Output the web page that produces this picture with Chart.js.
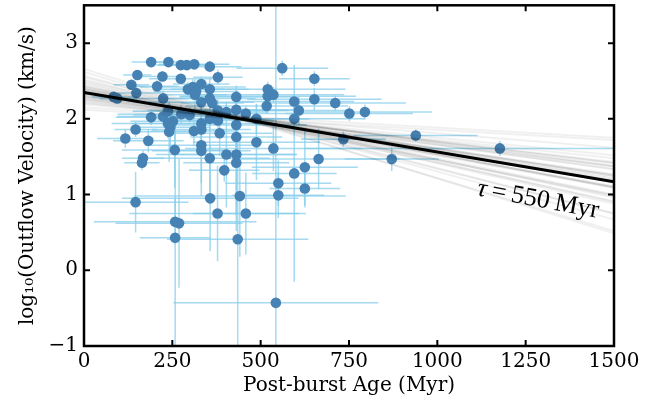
<!DOCTYPE html>
<html>
<head>
<meta charset="utf-8">
<script src="https://cdn.jsdelivr.net/npm/chart.js@4.4.1/dist/chart.umd.min.js"></script>
<style>
html,body{margin:0;padding:0;background:#fff;}
</style>
</head>
<body>
<canvas id="myScatter" width="670" height="409"></canvas>
<script>
// post-burst age (Myr) and its error
const ages=[190,239,274,291,312,356,151,222,274,379,134,207,332,308,294,317,314,356,148,84,94,224,356,363,332,431,431,238,275,299,379,403,458,488,190,224,252,238,244,241,332,356,379,431,332,311,384,431,146,117,182,257,332,332,356,403,431,431,488,167,164,397,561,652,520,520,536,517,595,652,711,608,751,795,595,734,939,536,664,871,625,595,550,550,625,146,357,441,378,458,258,269,258,435,543,1177];
const ageErr=[55,60,70,80,100,90,40,60,90,70,50,60,80,150,100,120,90,110,70,60,50,120,130,90,150,160,170,100,180,160,200,120,150,150,100,130,120,160,110,90,200,180,160,200,140,120,150,130,60,80,100,150,160,140,170,200,170,150,180,60,50,100,130,100,220,250,200,230,170,190,200,150,180,190,200,120,175,250,230,133,150,120,150,130,100,150,250,300,250,150,230,180,100,200,290,550];
// log10 outflow velocity (km/s) and its error
const logVel=[2.75,2.75,2.71,2.71,2.72,2.69,2.58,2.56,2.53,2.55,2.45,2.43,2.46,2.42,2.39,2.36,2.32,2.39,2.34,2.29,2.27,2.27,2.27,2.21,2.22,2.29,2.12,2.10,2.06,2.05,2.11,2.09,2.07,2.00,2.02,2.03,1.97,1.94,1.89,1.83,1.94,2.00,1.98,1.92,1.86,1.84,1.81,1.76,1.86,1.74,1.71,1.59,1.65,1.58,1.48,1.53,1.53,1.42,1.69,1.48,1.42,1.32,2.67,2.53,2.39,2.30,2.32,2.17,2.23,2.26,2.21,2.11,2.07,2.09,2.00,1.73,1.78,1.61,1.47,1.47,1.36,1.28,1.15,0.99,1.08,0.90,0.95,0.98,0.75,0.75,0.64,0.62,0.43,0.41,-0.43,1.61];
const logVelErr=[0.05,0.05,0.05,0.05,0.05,0.05,0.06,0.07,0.06,0.1,0.06,0.08,0.1,0.1,0.1,0.12,0.2,0.15,0.1,0.05,0.05,0.1,0.15,0.12,0.1,0.15,0.25,0.1,0.12,0.1,0.15,0.1,0.1,0.2,0.1,0.12,0.15,0.2,0.3,0.4,0.2,0.15,0.18,0.2,0.25,0.2,0.3,0.4,0.1,0.12,0.15,0.5,0.5,0.6,0.6,0.7,0.8,0.9,0.5,0.1,0.1,0.15,0.1,0.1,0.1,0.1,0.1,0.1,0.1,0.15,0.1,0.2,0.1,0.1,0.15,0.1,0.08,0.3,0.4,0.16,0.5,1.43,0.3,0.3,0.25,0.4,0.7,0.8,0.63,0.54,0.3,0.85,1.5,1.5,4.0,0.1];

// best fit line
const fitAges=[0,1500];
const fitVel=[2.35,1.17];
// posterior sample lines: value at age 0 and at age 1500
const fanStart=[2.35,2.30,2.40,2.28,2.44,2.33,2.37,2.25,2.48,2.31,2.39,2.22,2.52,2.35,2.29,2.42,2.19,2.57,2.34,2.36,2.27,2.46,2.32,2.38,2.15,2.62,2.30,2.41,2.24,2.50,2.36,2.33,2.43,2.26,2.55,2.21,2.34,2.39,2.12,2.66];
const fanEnd=[1.18,1.27,1.10,1.41,0.91,1.23,1.10,1.42,0.88,1.38,0.99,1.52,0.75,1.25,1.26,1.09,1.62,0.67,1.17,1.19,1.34,0.96,1.25,1.11,1.75,0.52,1.37,0.98,1.37,0.90,1.09,1.33,1.00,1.43,0.75,1.48,1.21,1.16,1.72,0.49];

const xTicks=[0,250,500,750,1000,1250,1500];
const yTicks=[-1,0,1,2,3];

const serif="'DejaVu Serif', serif";

const errorBars={
  id:'errorBars',
  beforeDatasetsDraw(chart){
    const {ctx,chartArea:a,scales:{x,y}}=chart;
    ctx.save();
    ctx.beginPath();ctx.rect(a.left,a.top,a.right-a.left,a.bottom-a.top);ctx.clip();
    ctx.strokeStyle='rgba(135,206,235,0.75)';
    ctx.lineWidth=1.5;
    for(let i=0;i<ages.length;i++){
      const px=x.getPixelForValue(ages[i]),py=y.getPixelForValue(logVel[i]);
      ctx.beginPath();
      ctx.moveTo(x.getPixelForValue(ages[i]-ageErr[i]),py);
      ctx.lineTo(x.getPixelForValue(ages[i]+ageErr[i]),py);
      ctx.moveTo(px,y.getPixelForValue(logVel[i]-logVelErr[i]));
      ctx.lineTo(px,y.getPixelForValue(logVel[i]+logVelErr[i]));
      ctx.stroke();
    }
    ctx.restore();
  }
};

const frame={
  id:'frame',
  afterDraw(chart){
    const {ctx,chartArea:a,scales:{x,y}}=chart;
    ctx.save();
    ctx.strokeStyle='#000';
    ctx.lineWidth=2;
    ctx.beginPath();
    xTicks.forEach(v=>{
      const px=x.getPixelForValue(v);
      ctx.moveTo(px,a.bottom);ctx.lineTo(px,a.bottom-6);
      ctx.moveTo(px,a.top);ctx.lineTo(px,a.top+6);
    });
    yTicks.forEach(v=>{
      const py=y.getPixelForValue(v);
      ctx.moveTo(a.left,py);ctx.lineTo(a.left+6,py);
      ctx.moveTo(a.right,py);ctx.lineTo(a.right-6,py);
    });
    ctx.stroke();
    ctx.lineWidth=2.5;
    ctx.strokeRect(a.left,a.top,a.right-a.left,a.bottom-a.top);
    ctx.restore();
  }
};

const tauLabel={
  id:'tauLabel',
  afterDatasetsDraw(chart){
    const {ctx,scales:{x,y}}=chart;
    const x0=x.getPixelForValue(fitAges[0]),y0=y.getPixelForValue(fitVel[0]);
    const x1=x.getPixelForValue(fitAges[1]),y1=y.getPixelForValue(fitVel[1]);
    const ang=Math.atan2(y1-y0,x1-x0)*1.1;
    ctx.save();
    ctx.translate(x.getPixelForValue(1285),y.getPixelForValue(0.93));
    ctx.rotate(ang);
    ctx.fillStyle='#000';
    ctx.textBaseline='middle';
    const parts=[["italic 26px 'Liberation Serif', serif","\u03c4"],["26px 'Liberation Serif', serif","\u2009=\u2009"],["26px 'Liberation Serif', serif","550\u2009Myr"]];
    let w=0;
    parts.forEach(p=>{ctx.font=p[0];w+=ctx.measureText(p[1]).width;});
    let cx=-w/2;
    parts.forEach(p=>{ctx.font=p[0];ctx.fillText(p[1],cx,0);cx+=ctx.measureText(p[1]).width;});
    ctx.restore();
  }
};

const datasets=[];
datasets.push({
  type:'line',
  label:'fit',
  data:fitAges.map((a,i)=>({x:a,y:fitVel[i]})),
  borderColor:'#000',
  borderWidth:3,
  pointRadius:0,
  order:0
});
for(let i=0;i<fanStart.length;i++){
  datasets.push({
    type:'line',
    label:'sample',
    data:[{x:fitAges[0],y:fanStart[i]},{x:fitAges[1],y:fanEnd[i]}],
    borderColor:'rgba(0,0,0,0.06)',
    borderWidth:2,
    pointRadius:0,
    order:1
  });
}
datasets.push({
  type:'scatter',
  label:'galaxies',
  data:ages.map((a,i)=>({x:a,y:logVel[i]})),
  backgroundColor:'#4682b4',
  borderWidth:0,
  pointRadius:5.3,
  order:2
});

const ctx=document.getElementById("myScatter");
let scatterChart=new Chart(ctx,{
  type:'scatter',
  data:{datasets:datasets},
  plugins:[errorBars,frame,tauLabel],
  options:{
    responsive:false,
    animation:false,
    devicePixelRatio:1,
    layout:{padding:{top:4,right:56,left:0,bottom:0}},
    plugins:{legend:{display:false},tooltip:{enabled:false}},
    scales:{
      x:{
        type:'linear',min:0,max:1500,
        afterBuildTicks:s=>{s.ticks=xTicks.map(v=>({value:v}));},
        afterFit:s=>{s.height=63;s.paddingLeft=0;s.paddingRight=0;},
        grid:{display:false,drawTicks:false},
        border:{display:false},
        ticks:{color:'#000',font:{family:serif,size:20},padding:4,maxRotation:0,callback:v=>String(v)},
        title:{display:true,text:'Post-burst Age (Myr)',color:'#000',font:{family:serif,size:20},padding:{top:11,bottom:11}}
      },
      y:{
        type:'linear',min:-1,max:3.5,
        afterBuildTicks:s=>{s.ticks=yTicks.map(v=>({value:v}));},
        afterFit:s=>{s.width=84;s.paddingTop=0;s.paddingBottom=0;},
        grid:{display:false,drawTicks:false},
        border:{display:false},
        ticks:{color:'#000',font:{family:serif,size:20},padding:6,
          callback:v=>v<0?'\u2212'+Math.abs(v):String(v)},
        title:{display:true,text:'log\u2081\u2080(Outflow Velocity) (km/s)',color:'#000',font:{family:serif,size:20},padding:{top:16,bottom:16}}
      }
    }
  }
});
</script>
</body>
</html>
